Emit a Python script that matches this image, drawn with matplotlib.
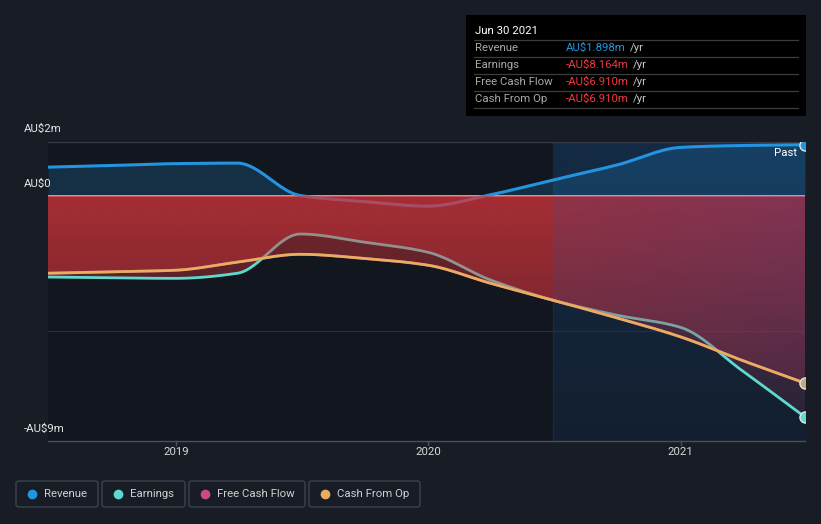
import numpy as np
import pandas as pd
import matplotlib
matplotlib.use("Agg")
import matplotlib.pyplot as plt
from matplotlib.patches import Rectangle, FancyBboxPatch

plt.rcParams['font.family'] = ['Roboto', 'DejaVu Sans']

# quarterly values, AU$ millions (trailing twelve months)
quarters = ['2018-06-30', '2018-09-30', '2018-12-31', '2019-03-31', '2019-06-30',
            '2019-09-30', '2019-12-31', '2020-03-31', '2020-06-30', '2020-09-30',
            '2020-12-31', '2021-03-31', '2021-06-30']
revenue = [1.07, 1.13, 1.20, 1.22, 0.02, -0.20, -0.37, 0.05, 0.60, 1.15, 1.80, 1.87, 1.898]
earnings = [-2.99, -3.02, -3.04, -2.85, -1.40, -1.70, -2.07, -3.10, -3.85, -4.40, -4.85, -6.45, -8.164]
free_cash_flow = [-2.85, -2.80, -2.74, -2.44, -2.15, -2.30, -2.55, -3.22, -3.85, -4.50, -5.20, -6.07, -6.91]
cash_from_op = [-2.85, -2.80, -2.74, -2.44, -2.15, -2.30, -2.55, -3.22, -3.85, -4.50, -5.20, -6.07, -6.91]

legend_names = ['Revenue', 'Earnings', 'Free Cash Flow', 'Cash From Op']
colors = ['#2394df', '#5fd9cf', '#c94a86', '#e8ad5e']
tooltip_vals = ['AU$1.898m', '-AU$8.164m', '-AU$6.910m', '-AU$6.910m']

W, H = 821, 524
BG = '#181c25'
PLOT_BG = '#12161e'
FS = 8.2


def to_year(s):
    d = pd.Timestamp(s)
    start = pd.Timestamp(year=d.year, month=1, day=1)
    return d.year + (d - start).days / 365.25


def pchip(x, y, xs):
    # monotone cubic curve, just for drawing the smooth lines
    x = np.asarray(x, float); y = np.asarray(y, float)
    h = np.diff(x); d = np.diff(y) / h
    m = np.zeros_like(y)
    m[0] = d[0]; m[-1] = d[-1]
    for k in range(1, len(y) - 1):
        if d[k - 1] * d[k] <= 0:
            m[k] = 0
        else:
            w1 = 2 * h[k] + h[k - 1]; w2 = h[k] + 2 * h[k - 1]
            m[k] = (w1 + w2) / (w1 / d[k - 1] + w2 / d[k])
    idx = np.clip(np.searchsorted(x, xs) - 1, 0, len(x) - 2)
    t = (xs - x[idx]) / h[idx]
    h00 = 2 * t**3 - 3 * t**2 + 1; h10 = t**3 - 2 * t**2 + t
    h01 = -2 * t**3 + 3 * t**2; h11 = t**3 - t**2
    return h00 * y[idx] + h10 * h[idx] * m[idx] + h01 * y[idx + 1] + h11 * h[idx] * m[idx + 1]


def px(x, y):
    return x / W, 1 - y / H


x = np.array([to_year(q) for q in quarters])
xs = np.linspace(x[0], x[-1], 600)
rev_s = pchip(x, revenue, xs)
earn_s = pchip(x, earnings, xs)
fcf_s = pchip(x, free_cash_flow, xs)
cfo_s = pchip(x, cash_from_op, xs)
x_past = to_year('2020-06-30')

YMIN, YMAX = -9.05, 2.0

fig = plt.figure(figsize=(W / 100, H / 100), dpi=100, facecolor=BG)
ax = fig.add_axes([48 / W, 1 - 441 / H, 757 / W, (441 - 142) / H])
ax.set_facecolor(PLOT_BG)
ax.set_xlim(x[0], x[-1])
ax.set_ylim(YMIN, YMAX)
for s in ax.spines.values():
    s.set_visible(False)
ax.set_xticks([])
ax.set_yticks([])

# red on the left, going pinkish inside the last year
red_l = np.array([214, 54, 60]) / 255
red_a = np.array([188, 55, 74]) / 255
red_b = np.array([168, 57, 90]) / 255
col_rgb = np.zeros((len(xs), 3))
for j, xv in enumerate(xs):
    if xv < x_past:
        col_rgb[j] = red_l
    else:
        f = (xv - x_past) / (x[-1] - x_past)
        col_rgb[j] = red_a * (1 - f) + red_b * f


def gradient_fill(yfill, a_top, a_bot, z):
    poly = ax.fill_between(xs, 0, yfill, color='none', lw=0)
    arr = np.zeros((256, len(xs), 4))
    arr[..., :3] = col_rgb[None, :, :]
    arr[..., 3] = np.linspace(a_bot, a_top, 256)[:, None]
    im = ax.imshow(arr, extent=[x[0], x[-1], YMIN, 0.0], origin='lower',
                   aspect='auto', zorder=z, interpolation='bilinear')
    im.set_clip_path(poly.get_paths()[0], transform=ax.transData)


# highlighted last year
span = np.zeros((256, 1, 4))
span[..., :3] = matplotlib.colors.to_rgb('#1a5fa8')
span[:, 0, 3] = np.linspace(0.13, 0.28, 256)
ax.imshow(span, extent=[x_past, x[-1], YMIN, YMAX], origin='lower',
          aspect='auto', zorder=0.5, interpolation='bilinear')
ax.axvline(x_past, color='#1c2838', lw=1, zorder=0.6)

# gridlines
ax.axhline(2.0, color='#353a45', lw=1, zorder=0.7)
ax.axhline(-5.0, color='#2a2f39', lw=0.8, zorder=0.7)

# revenue area
ax.fill_between(xs, 0, np.maximum(rev_s, 0), color='#2394df', alpha=0.2, lw=0, zorder=1)
ax.axhline(0, color='#b4b4b4', lw=1.3, zorder=2)
ax.plot(xs, rev_s, color=colors[0], lw=2.2, zorder=3, solid_capstyle='round')

# negative areas
gradient_fill(earn_s, 0.5, 0.12, 3.5)
ax.plot(xs, earn_s, color=colors[1], lw=2, zorder=3.8, solid_capstyle='round')
gradient_fill(fcf_s, 0.3, 0.08, 4)
gradient_fill(cfo_s, 0.3, 0.08, 4.1)
ax.plot(xs, fcf_s, color=colors[2], lw=2, zorder=5)
ax.plot(xs, cfo_s, color=colors[3], lw=2, zorder=5.5)

ax.set_xlim(x[0], x[-1])
ax.set_ylim(YMIN, YMAX)

# end markers (cut by the plot edge)
for val, c in [(revenue[-1], colors[0]), (earnings[-1], colors[1]), (cash_from_op[-1], '#c9a878')]:
    ax.plot(x[-1], val, 'o', ms=8, mfc=c, mec='#e6e6e6', mew=1, zorder=7)

fig.text(*px(797, 153), 'Past', color='#ffffff', fontsize=FS, ha='right', va='center', zorder=8)

# bottom axis + ticks
fig.add_artist(plt.Line2D([48 / W, 805 / W], [1 - 441 / H] * 2, color='#4a505a', lw=1))
for yr, xp in [('2019', 2019.0), ('2020', 2020.0), ('2021', 2021.0)]:
    fx = 48 / W + (xp - x[0]) / (x[-1] - x[0]) * 757 / W
    fig.add_artist(plt.Line2D([fx, fx], [1 - 441 / H, 1 - 445 / H], color='#4a505a', lw=1))
    fig.text(fx, 1 - 452 / H, yr, color='#d8d8d8', fontsize=FS, ha='center', va='center')

# y labels
for lab, yp in [('AU$2m', 129), ('AU$0', 184), ('-AU$9m', 429)]:
    fig.text(24 / W, 1 - yp / H, lab, color='#e6e6e6', fontsize=FS, ha='left', va='center')

# tooltip
fig.patches.append(Rectangle(px(466, 116), 340 / W, 101 / H, transform=fig.transFigure,
                             facecolor='#000000', edgecolor='none', zorder=10))
fig.text(*px(475, 31), 'Jun 30 2021', color='#ffffff', fontsize=FS, va='center', zorder=11)
for yl in [40, 57, 74, 91, 108]:
    fig.add_artist(plt.Line2D([474 / W, 798 / W], [1 - yl / H] * 2, color='#3c3c3c', lw=0.9, zorder=11))
renderer = fig.canvas.get_renderer()
for i, (name, val) in enumerate(zip(legend_names, tooltip_vals)):
    yrow = 48 + 17 * i
    fig.text(*px(475, yrow), name, color='#a8a8a8', fontsize=FS, va='center', zorder=11)
    vc = '#2394df' if i == 0 else '#f0383f'
    t = fig.text(*px(566, yrow), val, color=vc, fontsize=FS, va='center', zorder=11)
    bb = t.get_window_extent(renderer)
    fig.text(bb.x1 / W + 4 / W, 1 - yrow / H, '/yr', color='#c8c8c8', fontsize=FS,
             va='center', zorder=11)

# legend boxes
boxes = [(16, 98), (102, 185), (189, 305), (309, 420)]
for (x0, x1), name, c in zip(boxes, legend_names, colors):
    fig.patches.append(FancyBboxPatch(px(x0, 507), (x1 - x0) / W, 26 / H,
                                      boxstyle='round,pad=0,rounding_size=0.004',
                                      transform=fig.transFigure, facecolor='none',
                                      edgecolor='#3d434d', lw=1))
    fig.add_artist(plt.Line2D([(x0 + 16) / W], [1 - 494 / H], marker='o', ms=7,
                              mfc=c, mec='none', ls='none'))
    fig.text(*px(x0 + 28, 494), name, color='#d0d0d0', fontsize=FS, va='center')

fig.savefig('out.png', dpi=100, facecolor=BG)
